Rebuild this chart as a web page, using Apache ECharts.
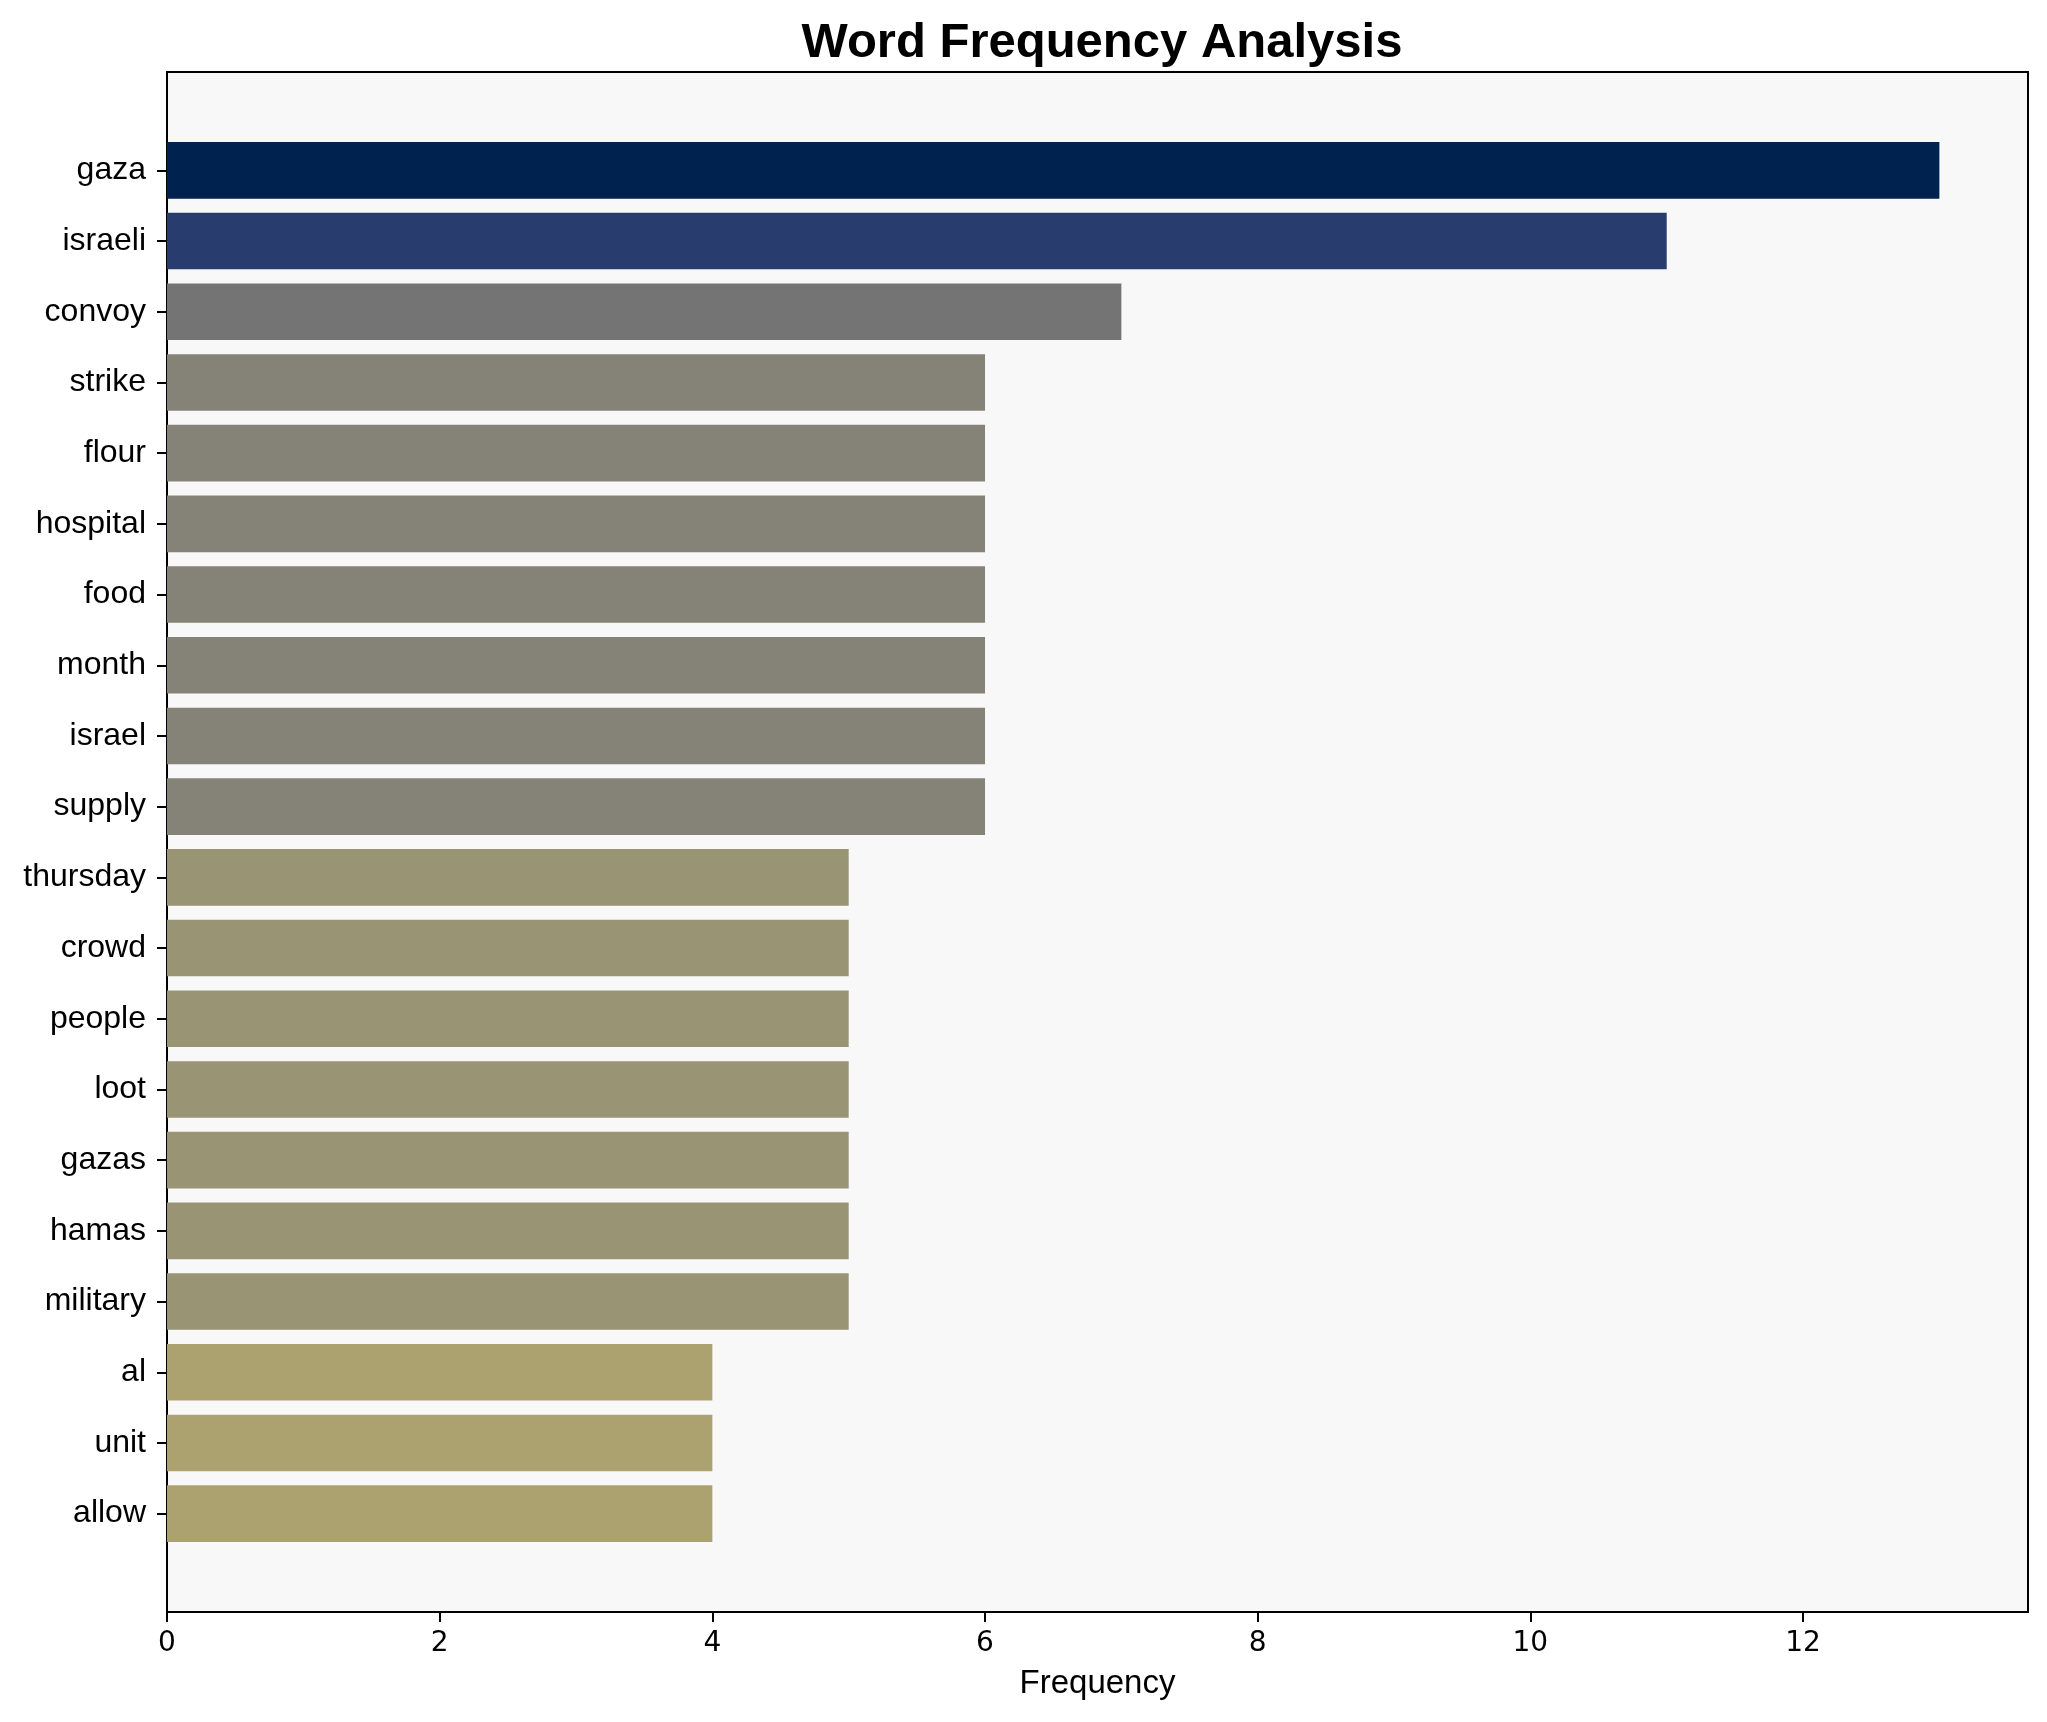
<!DOCTYPE html>
<html>
<head>
<meta charset="utf-8">
<script src="https://cdn.jsdelivr.net/npm/echarts@6/dist/echarts.min.js"></script>
<style>
html,body{margin:0;padding:0;background:#fff;}
#chart{width:2047px;height:1722px;}
</style>
</head>
<body>
<div id="chart"></div>
<script>
var words = ['gaza','israeli','convoy','strike','flour','hospital','food','month','israel','supply','thursday','crowd','people','loot','gazas','hamas','military','al','unit','allow'];
var counts = [13,11,7,6,6,6,6,6,6,6,5,5,5,5,5,5,5,4,4,4];
var barColors = ['#00224e','#283d6e','#747474','#858378','#858378','#858378','#858378','#858378','#858378','#858378','#989474','#989474','#989474','#989474','#989474','#989474','#989474','#aca270','#aca270','#aca270'];
var xTicks = [0,2,4,6,8,10,12];
var xMax = 13.65;

var FONT = 'Liberation Sans, Arial, sans-serif';
var TICKFONT = 'DejaVu Sans, sans-serif';
var chart = echarts.init(document.getElementById('chart'));
chart.setOption({
  animation: false,
  backgroundColor: '#ffffff',
  title: {
    text: 'Word Frequency Analysis',
    left: 1097, top: 38, textAlign: 'center', textVerticalAlign: 'middle',
    textStyle: {fontFamily: FONT, fontSize: 49, fontWeight: 'bold', color: '#000'}
  },
  grid: [
    {left: 167, right: 19, top: 72, bottom: 110, show: true, backgroundColor: '#f8f8f8', borderColor: '#000', borderWidth: 2, z: 0},
    {left: 167, right: 19, top: 135, bottom: 173}
  ],
  xAxis: [
    {
      gridIndex: 0, type: 'value', min: 0, max: xMax,
      name: 'Frequency', nameLocation: 'middle', nameGap: 55,
      nameTextStyle: {fontFamily: FONT, fontSize: 33, color: '#000'},
      axisLine: {show: true, lineStyle: {color: '#000', width: 2}},
      axisTick: {show: true, length: 10, lineStyle: {color: '#000', width: 2}, customValues: xTicks},
      axisLabel: {fontFamily: TICKFONT, fontSize: 28, color: '#000', margin: 18, customValues: xTicks},
      splitLine: {show: false}
    },
    {
      gridIndex: 1, type: 'value', min: 0, max: xMax, show: false
    }
  ],
  yAxis: [
    {gridIndex: 0, type: 'value', show: false},
    {
      gridIndex: 1, type: 'category', data: words, inverse: true,
      axisLine: {show: false},
      axisTick: {show: true, length: 10, alignWithLabel: true, lineStyle: {color: '#000', width: 2}},
      axisLabel: {fontFamily: FONT, fontSize: 32, color: '#000', margin: 21, interval: 0, padding: [5, 0, 0, 0]},
      splitLine: {show: false}
    }
  ],
  series: [{
    type: 'bar', xAxisIndex: 1, yAxisIndex: 1,
    barWidth: '80%',
    data: counts.map(function (v, i) { return {value: v, itemStyle: {color: barColors[i]}}; })
  }]
});
</script>
</body>
</html>
